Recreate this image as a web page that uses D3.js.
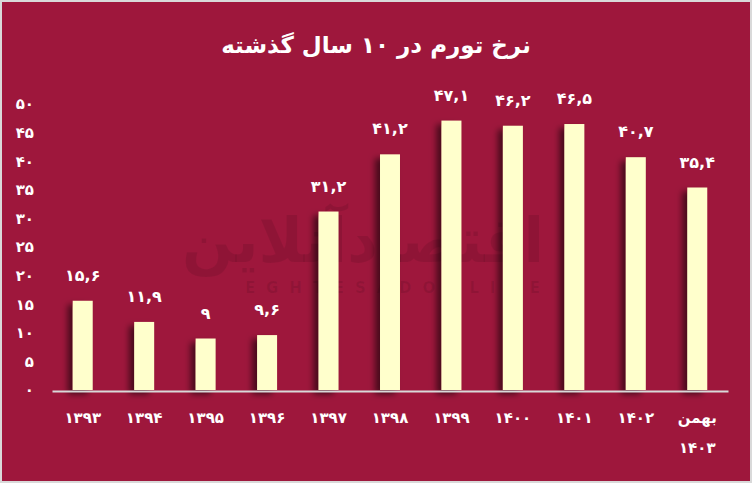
<!DOCTYPE html>
<html><head><meta charset="utf-8">
<script src="https://cdn.jsdelivr.net/npm/d3@7"></script>
<style>html,body{margin:0;padding:0;background:#fff}svg{display:block}</style>
</head><body>
<script>
const categories = ["۱۳۹۳","۱۳۹۴","۱۳۹۵","۱۳۹۶","۱۳۹۷","۱۳۹۸","۱۳۹۹","۱۴۰۰","۱۴۰۱","۱۴۰۲","بهمن|۱۴۰۳"];
const values = [15.6, 11.9, 9, 9.6, 31.2, 41.2, 47.1, 46.2, 46.5, 40.7, 35.4];
const valueLabels = ["۱۵,۶","۱۱,۹","۹","۹,۶","۳۱,۲","۴۱,۲","۴۷,۱","۴۶,۲","۴۶,۵","۴۰,۷","۳۵,۴"];
const yTicks = [0,5,10,15,20,25,30,35,40,45,50];
const yTickLabels = ["۰","۵","۱۰","۱۵","۲۰","۲۵","۳۰","۳۵","۴۰","۴۵","۵۰"];
const title = "نرخ تورم در ۱۰ سال گذشته";

const W = 752, H = 483;
const FONT = "'DejaVu Sans', sans-serif";
const BG = "#9e173c";
const svg = d3.select("body").append("svg").attr("width", W).attr("height", H);

const defs = svg.append("defs");
const f = defs.append("filter").attr("id","sh").attr("x","-100%").attr("y","-10%").attr("width","300%").attr("height","130%");
f.append("feDropShadow").attr("dx",-5).attr("dy",4).attr("stdDeviation",3).attr("flood-color","#000").attr("flood-opacity",0.55);

svg.append("rect").attr("x",0).attr("y",0).attr("width",W).attr("height",H).attr("fill","#d9d9d9");
svg.append("rect").attr("x",2).attr("y",2).attr("width",W-4).attr("height",H-4).attr("fill",BG);

// watermark
svg.append("text").attr("x",182).attr("y",262)
  .attr("textLength",362).attr("lengthAdjust","spacingAndGlyphs")
  .attr("font-family",FONT).attr("font-weight","bold").attr("font-size",62)
  .attr("fill","#000").attr("fill-opacity",0.09).text("اقتصادآنلاین");
svg.append("text").attr("x",245).attr("y",293)
  .attr("textLength",295).attr("lengthAdjust","spacing")
  .attr("font-family",FONT).attr("font-weight","bold").attr("font-size",15)
  .attr("fill","#000").attr("fill-opacity",0.09).text("EGHTESADONLINE");

// title
svg.append("text").attr("x",376).attr("y",53).attr("text-anchor","middle")
  .attr("font-family",FONT).attr("font-weight","bold").attr("font-size",23)
  .attr("fill","#fff").attr("direction","rtl").text(title);

const x = d3.scaleBand().domain(categories).range([52, 728]).paddingInner(0.675).paddingOuter(0.3375);
const y = d3.scaleLinear().domain([0, 50]).range([390, 104]);

// y axis labels
const ya = svg.append("g").attr("transform","translate(34,0)")
  .call(d3.axisLeft(y).tickValues(yTicks).tickSize(0).tickPadding(0).tickFormat((d,i)=>yTickLabels[i]));
ya.select(".domain").remove();
ya.selectAll("text").attr("font-family",FONT).attr("font-weight","bold").attr("font-size",15).attr("fill","#fff").attr("text-anchor","end").attr("dy","0.32em");

// bars
svg.append("g").selectAll("rect").data(values).join("rect")
  .attr("x",(d,i)=>x(categories[i])).attr("width",x.bandwidth())
  .attr("y",d=>y(d)).attr("height",d=>y(0)-y(d))
  .attr("fill","#ffffcc").attr("filter","url(#sh)");

// value labels
svg.append("g").selectAll("text").data(values).join("text")
  .attr("x",(d,i)=>x(categories[i])+x.bandwidth()/2).attr("y",d=>y(d)-20)
  .attr("text-anchor","middle").attr("font-family",FONT).attr("font-weight","bold").attr("font-size",16)
  .attr("fill","#fff").text((d,i)=>valueLabels[i]);

// x axis
const xa = svg.append("g").attr("transform","translate(0,391)")
  .call(d3.axisBottom(x).tickSize(0).tickPadding(0).tickFormat(()=>""));
xa.select(".domain").attr("stroke","#d9d9d9").attr("stroke-width",2);
xa.selectAll(".tick").each(function(d){
  const parts = d.split("|");
  const t = d3.select(this).select("text").attr("y",0).attr("dy",null)
    .attr("font-family",FONT).attr("font-weight","bold").attr("font-size",15).attr("fill","#fff").attr("text-anchor","middle");
  parts.forEach((p,j)=>{
    t.append("tspan").attr("x",0).attr("y", 32 + j*30).text(p);
  });
});
</script>
</body></html>
